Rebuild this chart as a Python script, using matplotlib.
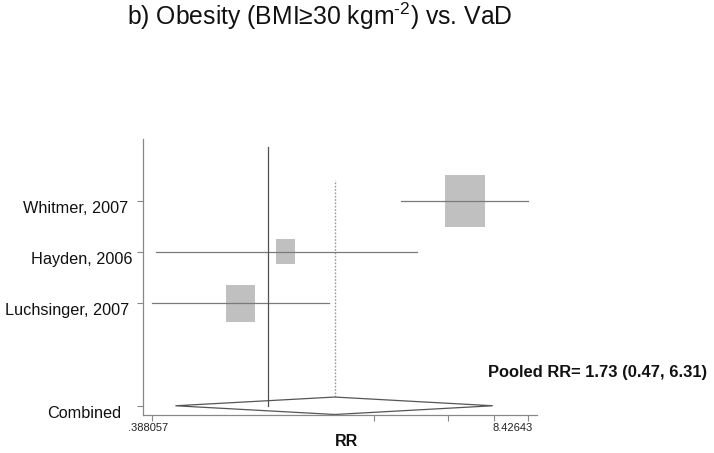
import matplotlib
matplotlib.use("Agg")
import matplotlib.pyplot as plt
import numpy as np
from matplotlib.path import Path
from matplotlib.transforms import ScaledTranslation

plt.rcParams['font.family'] = ['Liberation Sans', 'DejaVu Sans']
plt.rcParams['mathtext.fontset'] = 'custom'
plt.rcParams['mathtext.rm'] = 'Liberation Sans'

# ---- data ----
studies = ["Whitmer, 2007", "Hayden, 2006", "Luchsinger, 2007"]
rr = [5.01, 1.16, 0.80]
ci_lo = [2.98, 0.40, 0.388057]
ci_hi = [8.42643, 3.38, 1.65]
weights = [57.6, 13.3, 29.1]
pooled_label = "Combined"
pooled_rr = 1.73
pooled_lo = 0.47
pooled_hi = 6.31
xtick_vals = [0.388057, 2.388057, 4.388057, 6.388057, 8.42643]
xtick_labels = [".388057", "", "", "", "8.42643"]

# ---- figure ----
fig = plt.figure(figsize=(7.14, 4.53), dpi=100)
W, H = 714, 453
ax = fig.add_axes([143 / W, (H - 415) / H, 394 / W, 276 / H])
ax.set_xscale('log')
ax.set_xlim(0.3605, 9.06)
ax.set_ylim(-0.18, 5.2)

ypos = [4, 3, 2]
y_comb = 0

# boxes (area proportional to weight), non-square rectangle marker
rect = Path([(-0.385, -0.5), (0.385, -0.5), (0.385, 0.5), (-0.385, 0.5), (-0.385, -0.5)],
            [Path.MOVETO, Path.LINETO, Path.LINETO, Path.LINETO, Path.CLOSEPOLY])
k_pt = 4.93
sizes = [(k_pt * np.sqrt(w)) ** 2 for w in weights]
ax.scatter(rr, ypos, s=sizes, marker=rect, color='#c0c0c0', edgecolors='none', zorder=2)

# CI lines
for y, lo, hi in zip(ypos, ci_lo, ci_hi):
    ax.plot([lo, hi], [y, y], color='#7a7a7a', lw=0.9, zorder=3)

# null line
ax.plot([1, 1], [y_comb, 5.04], color='#505050', lw=0.9, zorder=3)
# pooled dotted line
ax.plot([pooled_rr, pooled_rr], [0.17, 4.4], color='#999999', lw=1.0,
        linestyle=(0, (1.2, 1.2)), zorder=1)

# diamond
dh = 0.17
ax.fill([pooled_lo, pooled_rr, pooled_hi, pooled_rr],
        [y_comb, y_comb + dh, y_comb, y_comb - dh],
        facecolor='white', edgecolor='#555555', lw=0.9, zorder=2)

# spines
for s in ['top', 'right']:
    ax.spines[s].set_visible(False)
for s in ['left', 'bottom']:
    ax.spines[s].set_color('#888888')
    ax.spines[s].set_linewidth(0.9)

# x ticks
ax.xaxis.set_minor_locator(matplotlib.ticker.NullLocator())
ax.set_xticks(xtick_vals)
ax.set_xticklabels(xtick_labels)
ax.tick_params(axis='x', direction='out', length=4, width=0.8, color='#888888',
               labelsize=8, pad=2, labelcolor='#222222')
xl = ax.get_xticklabels()
xl[0].set_transform(xl[0].get_transform() + ScaledTranslation(-4 / 100, 0, fig.dpi_scale_trans))
xl[-1].set_transform(xl[-1].get_transform() + ScaledTranslation(-16 / 100, 0, fig.dpi_scale_trans))

# y ticks
ax.set_yticks(ypos + [y_comb])
ax.set_yticklabels(studies + [pooled_label])
ax.tick_params(axis='y', direction='out', length=4.3, width=0.8, color='#888888',
               labelsize=11.7, pad=0, labelcolor='#111111')
dx_px = [-9.2, -4.8, -7.5, -15.8]
for lab, dx in zip(ax.get_yticklabels(), dx_px):
    lab.set_transform(lab.get_transform() + ScaledTranslation(dx / 100, -6 / 100, fig.dpi_scale_trans))

# texts
fig.text(320 / W, (H - 25) / H, "b) Obesity (BMI≥30 kgm$^{\\mathregular{\u2010" + "2}}$) vs. VaD",
         ha='center', va='baseline', fontsize=17.8, color='#111111')
fig.text(488 / W, (H - 377) / H,
         f"Pooled RR= {pooled_rr:.2f} ({pooled_lo:.2f}, {pooled_hi:.2f})",
         ha='left', va='baseline', fontsize=11.9, fontweight='bold', color='#111111')
fig.text(346 / W, (H - 446) / H, "RR", ha='center', va='baseline',
         fontsize=11.5, fontweight='bold', color='#111111')

fig.savefig("out.png", dpi=100)
